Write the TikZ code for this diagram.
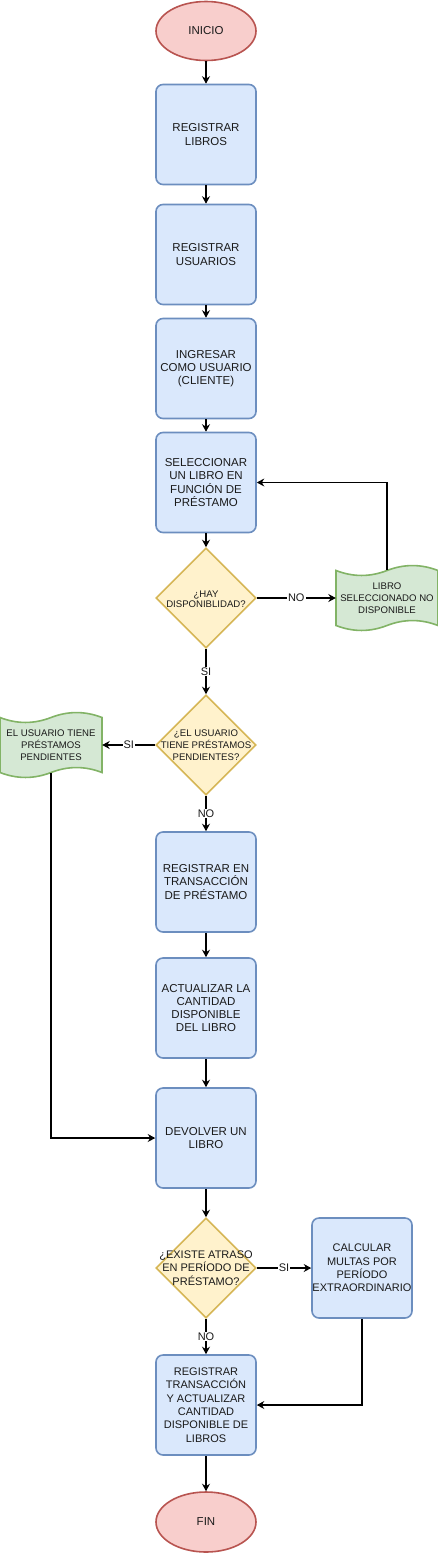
\documentclass[tikz,border=0pt]{standalone}
\usepackage{fontspec}
\setmainfont{Liberation Sans}
\usetikzlibrary{shapes.geometric,arrows.meta,calc}
\definecolor{bluefill}{HTML}{DAE8FC}
\definecolor{bluedraw}{HTML}{6C8EBF}
\definecolor{redfill}{HTML}{F8CECC}
\definecolor{reddraw}{HTML}{B85450}
\definecolor{yelfill}{HTML}{FFF2CC}
\definecolor{yeldraw}{HTML}{D6B656}
\definecolor{greenfill}{HTML}{D5E8D4}
\definecolor{greendraw}{HTML}{82B366}
\definecolor{txt}{HTML}{1A1A1A}
\newcommand\tapepath[4]{%
 \filldraw[draw=greendraw, fill=greenfill, line width=1.6pt]
  (#1,{#2+5.5}) .. controls ({#1+#3/6},{#2+12.1}) and ({#1+#3/3},{#2+12.1}) .. ({#1+#3/2},{#2+5.5})
  .. controls ({#1+2*#3/3},{#2-1.1}) and ({#1+5*#3/6},{#2-1.1}) .. ({#1+#3},{#2+5.5})
  -- ({#1+#3},{#2+#4-5.5})
  .. controls ({#1+5*#3/6},{#2+#4-12.1}) and ({#1+2*#3/3},{#2+#4-12.1}) .. ({#1+#3/2},{#2+#4-5.5})
  .. controls ({#1+#3/3},{#2+#4+1.1}) and ({#1+#3/6},{#2+#4+1.1}) .. (#1,{#2+#4-5.5}) -- cycle;}
\begin{document}
\begin{tikzpicture}[x=1pt,y=-1pt,
  proc/.style={draw=bluedraw, fill=bluefill, line width=1.6pt, rounded corners=7pt, minimum width=100pt, minimum height=100pt, inner sep=0pt, align=center, text=txt, font=\fontsize{11.5}{13.3}\selectfont},
  term/.style={ellipse, draw=reddraw, fill=redfill, line width=1.6pt, minimum width=100pt, minimum height=59pt, inner sep=0pt, text=txt, font=\fontsize{11.5}{13.3}\selectfont},
  dec/.style={diamond, draw=yeldraw, fill=yelfill, line width=1.6pt, minimum width=100pt, minimum height=100pt, inner sep=0pt},
  dtext/.style={align=center, inner sep=0pt, text=txt},
  docbox/.style={minimum width=102pt, minimum height=66pt, inner sep=0pt, align=center, text=txt, font=\fontsize{9.6}{11.8}\selectfont},
  arr/.style={line width=1.1pt, -{Stealth[length=7.5pt,width=8pt,inset=2.5pt]}},
  lbl/.style={fill=white, inner sep=1pt, text=txt, font=\fontsize{11}{13}\selectfont},
]
\useasboundingbox (0,0) rectangle (438,1553);

% nodes
\node[term] (start) at (206,31) {INICIO};
\node[proc] (s1) at (206,134.5) {REGISTRAR\\LIBROS};
\node[proc] (s2) at (206,254.5) {REGISTRAR\\USUARIOS};
\node[proc] (s3) at (206,368.5) {INGRESAR\\COMO USUARIO\\(CLIENTE)};
\node[proc] (s4) at (206,482.5) {SELECCIONAR\\UN LIBRO EN\\FUNCIÓN DE\\PRÉSTAMO};
\node[dec] (d1) at (206,598) {};
\node[dtext, font=\fontsize{9.6}{10.5}\selectfont] (d1t) at (206,599) {¿HAY\\DISPONIBLIDAD?};
\tapepath{336}{565}{102}{66}
\node[docbox] (doc1) at (387,598) {LIBRO\\SELECCIONADO NO\\DISPONIBLE};
\node[dec] (d2) at (206,745) {};
\node[dtext, font=\fontsize{9.6}{11.8}\selectfont] (d2t) at (206,745) {¿EL USUARIO\\TIENE PRÉSTAMOS\\PENDIENTES?};
\tapepath{0}{712}{102}{66}
\node[docbox] (doc2) at (51,745) {EL USUARIO TIENE\\PRÉSTAMOS\\PENDIENTES};
\node[proc] (s5) at (206,882) {REGISTRAR EN\\TRANSACCIÓN\\DE PRÉSTAMO};
\node[proc] (s6) at (206,1008) {ACTUALIZAR LA\\CANTIDAD\\DISPONIBLE\\DEL LIBRO};
\node[proc] (s7) at (206,1138) {DEVOLVER UN\\LIBRO};
\node[dec] (d3) at (206,1268) {};
\node[dtext, font=\fontsize{11}{13.3}\selectfont] (d3t) at (206,1268) {¿EXISTE ATRASO\\EN PERÍODO DE\\PRÉSTAMO?};
\node[proc, font=\fontsize{11}{13.3}\selectfont] (s8) at (362,1268) {CALCULAR\\MULTAS POR\\PERÍODO\\EXTRAORDINARIO};
\node[proc, font=\fontsize{11}{13.3}\selectfont] (s9) at (206,1405) {REGISTRAR\\TRANSACCIÓN\\Y ACTUALIZAR\\CANTIDAD\\DISPONIBLE DE\\LIBROS};
\node[term, minimum height=60pt] (fin) at (206,1522) {FIN};

% connectors
\draw[arr] (start) -- (s1);
\draw[arr] (s1) -- (s2);
\draw[arr] (s2) -- (s3);
\draw[arr] (s3) -- (s4);
\draw[arr] (s4) -- (d1);
\draw[arr] (d1.east) -- node[lbl] {NO} (doc1.west);
\draw[arr] ([yshift=-5.5pt]doc1.north) |- (s4.east);
\draw[arr] (d1.south) -- node[lbl] {SI} (d2.north);
\draw[arr] (d2.west) -- node[lbl] {SI} (doc2.east);
\draw[arr] (d2.south) -- node[lbl] {NO} (s5.north);
\draw[arr] (s5) -- (s6);
\draw[arr] (s6) -- (s7);
\draw[arr] ([yshift=5.5pt]doc2.south) |- (s7.west);
\draw[arr] (s7) -- (d3);
\draw[arr] (d3.east) -- node[lbl] {SI} (s8.west);
\draw[arr] (d3.south) -- node[lbl] {NO} (s9.north);
\draw[arr] (s8.south) |- (s9.east);
\draw[arr] (s9) -- (fin);
\end{tikzpicture}
\end{document}
